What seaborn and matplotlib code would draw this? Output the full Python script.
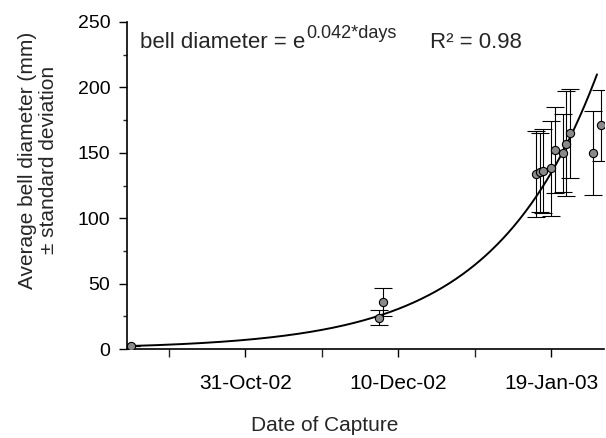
import numpy as np
import pandas as pd
import matplotlib
matplotlib.use("Agg")
import matplotlib.pyplot as plt
import matplotlib.dates as mdates
from matplotlib.ticker import MultipleLocator, FixedLocator
import seaborn as sns

# capture dates, mean bell diameter (mm) and standard deviation
dates = ['2002-10-01', '2002-12-05', '2002-12-06',
         '2003-01-15', '2003-01-16', '2003-01-17', '2003-01-19',
         '2003-01-20', '2003-01-22', '2003-01-23', '2003-01-24',
         '2003-01-30', '2003-02-01']
diameter = [2, 24, 36, 134, 135, 136, 138, 152, 150, 157, 165, 150, 171]
sd = [0, 6, 11, 33, 30, 32, 36, 33, 30, 40, 34, 32, 27]

# exponential trend line as drawn on the chart (start value, daily rate)
fit_y0 = 2.3
fit_rate = 0.037
fit_dates = ['2002-10-01', '2003-01-31']

tick_dates = ['2002-10-11', '2002-10-31', '2002-11-20', '2002-12-10', '2002-12-30', '2003-01-19']
label_dates = ['2002-10-31', '2002-12-10', '2003-01-19']

df = pd.DataFrame({'date': pd.to_datetime(dates), 'diameter': diameter, 'sd': sd})
t0 = pd.Timestamp(fit_dates[0])
curve = pd.DataFrame({'date': pd.date_range(fit_dates[0], fit_dates[1], freq='6h')})
curve['diameter'] = fit_y0 * np.exp(fit_rate * (curve['date'] - t0).dt.total_seconds() / 86400)

sns.set_style('ticks')
plt.rcParams['font.family'] = ['Liberation Sans', 'DejaVu Sans']

fig = plt.figure(figsize=(6.06, 4.38), dpi=100)
ax = fig.add_axes([127 / 606, 1 - 349 / 438, 477 / 606, 327 / 438])

sns.lineplot(data=curve, x='date', y='diameter', ax=ax, color='black', lw=1.4)
ax.errorbar(df['date'], df['diameter'], yerr=df['sd'], fmt='none', ecolor='black',
            elinewidth=0.8, capsize=6.5, capthick=0.8)
sns.scatterplot(data=df, x='date', y='diameter', ax=ax, color='#8a8a8a',
                edgecolor='black', linewidth=0.8, s=35, zorder=5)

ax.set_xlim(pd.Timestamp('2002-09-30'), pd.Timestamp('2003-02-01 20:00'))
ax.set_ylim(0, 250)
ax.yaxis.set_major_locator(MultipleLocator(50))
ax.yaxis.set_minor_locator(MultipleLocator(25))
ax.xaxis.set_major_locator(FixedLocator(mdates.date2num(pd.to_datetime(label_dates))))
minor = [d for d in tick_dates if d not in label_dates]
ax.xaxis.set_minor_locator(FixedLocator(mdates.date2num(pd.to_datetime(minor))))
ax.xaxis.set_major_formatter(mdates.DateFormatter('%d-%b-%y'))
ax.tick_params(axis='both', which='major', length=6, width=1, colors='black')
ax.tick_params(axis='x', which='major', labelsize=15, pad=12)
ax.tick_params(axis='y', which='major', labelsize=14, pad=6)
ax.tick_params(axis='x', which='minor', length=6, width=1)
ax.tick_params(axis='y', which='minor', length=3, width=1)

for s in ['top', 'right']:
    ax.spines[s].set_visible(False)
for s in ['left', 'bottom']:
    ax.spines[s].set_linewidth(1.2)
    ax.spines[s].set_color('black')

ax.set_xlabel('Date of Capture', fontsize=15)
ax.xaxis.set_label_coords((325 - 127) / 477, (349 - 416) / 327)
ax.set_ylabel('Average bell diameter (mm)\n\u00b1 standard deviation', fontsize=15,
              linespacing=1.15)
ax.yaxis.set_label_coords((58 - 127) / 477, (349 - 160) / 327)

# equation: main text, superscript glued to the "e", then R²
main = fig.text(140 / 606, 1 - 43 / 438, 'bell diameter = e', fontsize=16,
                va='center', ha='left')
fig.canvas.draw()
bb = main.get_window_extent()
fig.text((bb.x1 + 1) / 606, 1 - 34 / 438, '0.042*days', fontsize=13,
         va='center', ha='left')
fig.text(430 / 606, 1 - 43 / 438, 'R\u00b2 = 0.98', fontsize=16, va='center', ha='left')

fig.savefig('out.png', dpi=100)
